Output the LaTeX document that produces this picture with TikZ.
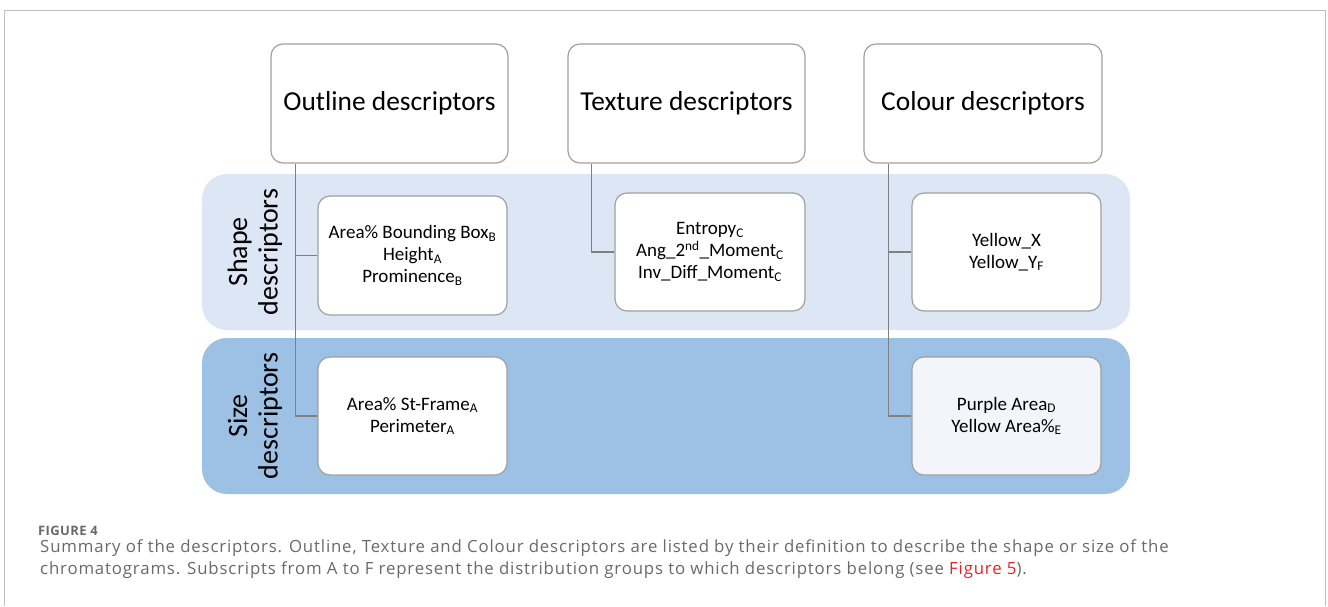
\documentclass[tikz,border=0pt]{standalone}
\usepackage{fontspec}
\setmainfont{Carlito}
\newfontfamily\capfont[LetterSpace=5]{Open Sans}
\newfontfamily\capheadfont[LetterSpace=3]{Open Sans}
\begin{document}
\begin{tikzpicture}[x=1pt,y=-1pt,
  topbox/.style={draw=boxgray,line width=1.2pt,rounded corners=12pt,fill=white,
    minimum width=237pt,minimum height=119pt,inner sep=0pt,font=\fontsize{27.4}{31}\selectfont},
  itembox/.style={draw=boxgray,line width=1.2pt,rounded corners=12pt,fill=white,
    minimum width=189pt,minimum height=118pt,inner sep=0pt,align=center,
    font=\fontsize{19}{22}\selectfont},
  band/.style={rounded corners=25pt,draw=none},
  bandlabel/.style={rotate=90,align=center,font=\fontsize{28}{30.5}\selectfont},
  conn/.style={draw=linegray,line width=1.1pt},
  captext/.style={anchor=base west,inner sep=0pt,text=capgray,font=\capfont\fontsize{16.8}{20}\selectfont}]
\definecolor{boxgray}{RGB}{160,160,160}
\definecolor{linegray}{RGB}{128,128,128}
\definecolor{bandlight}{RGB}{221,230,244}
\definecolor{banddark}{RGB}{157,193,228}
\definecolor{framegray}{RGB}{190,190,190}
\definecolor{capgray}{RGB}{105,105,105}
\definecolor{linkred}{RGB}{226,35,40}
\useasboundingbox (0,0) rectangle (1328,606);
% outer frame
\draw[framegray,line width=1pt] (4.5,606) -- (4.5,10.5) -- (1325.5,10.5) -- (1325.5,606);
% bands
\fill[band,bandlight] (202,174) rectangle (1130,330);
\fill[band,banddark] (202,338) rectangle (1130,494);
\node[bandlabel] (shapelab) at (255,252) {Shape\\descriptors};
\node[bandlabel] (sizelab) at (255,416) {Size\\descriptors};
% top boxes
\node[topbox] (outline) at (389.5,103.5) {Outline descriptors};
\node[topbox] (texture) at (686.5,103.5) {Texture descriptors};
\node[topbox,minimum width=238pt] (colour) at (983,103.5) {Colour descriptors};
% item boxes
\node[itembox,minimum height=119pt] (ab) at (412.5,255.5) {Area\% Bounding Box\textsubscript{B}\\Height\textsubscript{A}\\Prominence\textsubscript{B}};
\node[itembox,minimum width=190pt] (ent) at (710,252) {Entropy\textsubscript{C}\\Ang\_2\textsuperscript{nd}\_Moment\textsubscript{C}\\Inv\_Diff\_Moment\textsubscript{C}};
\node[itembox] (yx) at (1006.5,252) {Yellow\_X\\Yellow\_Y\textsubscript{F}};
\node[itembox] (sf) at (412.5,416) {Area\% St-Frame\textsubscript{A}\\Perimeter\textsubscript{A}};
\node[itembox,fill={rgb,255:red,243;green,245;blue,250}] (pa) at (1006.5,416) {Purple Area\textsubscript{D}\\Yellow Area\%\textsubscript{E}};
% connectors
\coordinate (oc) at ([xshift=25pt]outline.south west);
\coordinate (tc) at ([xshift=24pt]texture.south west);
\coordinate (cc) at ([xshift=25pt]colour.south west);
\draw[conn] (oc) |- (ab.west);
\draw[conn] (oc) |- (sf.west);
\draw[conn] (tc) |- (ent.west);
\draw[conn] (cc) |- (yx.west);
\draw[conn] (cc) |- (pa.west);
% caption
\node[anchor=base west,inner sep=0pt,text=capgray,font=\capheadfont\bfseries\fontsize{13}{14}\selectfont] (fig) at (38,535) {FIGURE 4};
\node[captext] (cap1) at (40,552) {Summary of the descriptors. Outline, Texture and Colour descriptors are listed by their definition to describe the shape or size of the};
\node[captext] (cap2) at (40,574) {chromatograms. Subscripts from A to F represent the distribution groups to which descriptors belong (see \textcolor{linkred}{Figure 5}).};
\end{tikzpicture}
\end{document}
